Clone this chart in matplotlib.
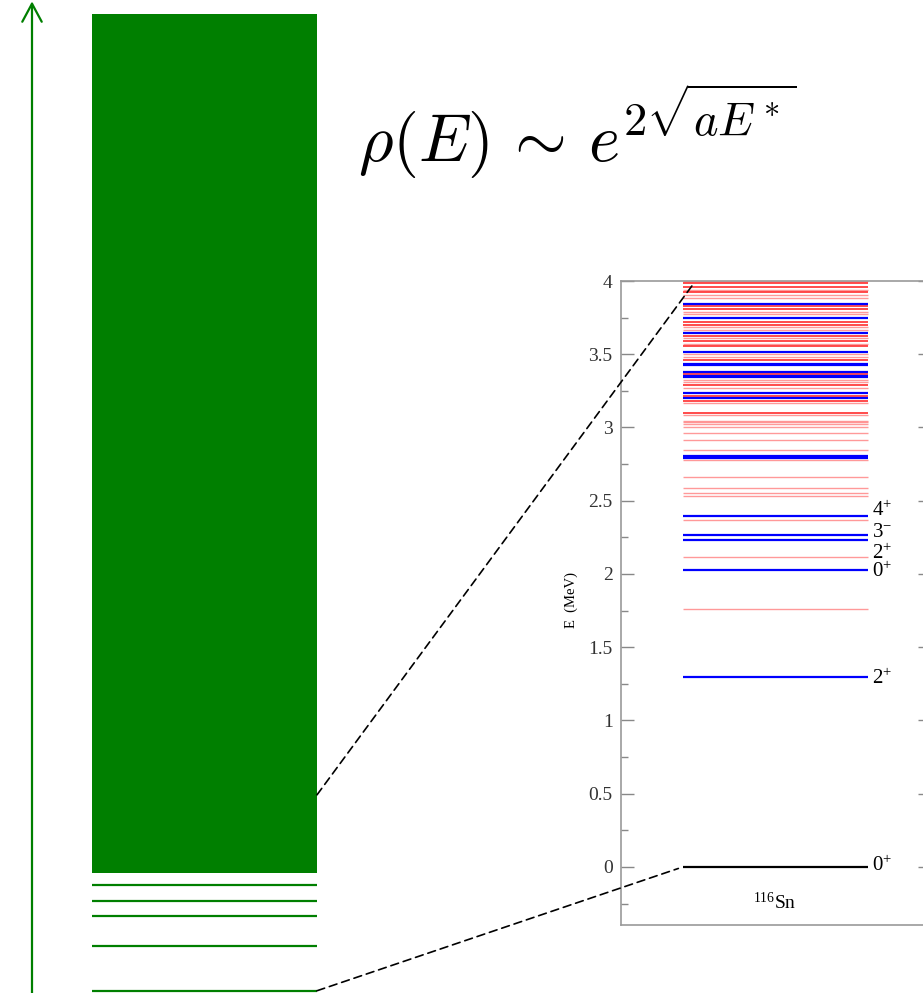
import matplotlib.pyplot as plt
from matplotlib.patches import ConnectionPatch

# schematic level scheme on the left (arbitrary units, first excited state = 1)
disc_levels = [0.0, 1.0, 1.667, 2.0, 2.342]
cont_lo, cont_hi = 2.62, 21.68
cont_link = 4.35          # where the zoom lines leave the continuum

# 116Sn levels (MeV)
ground = [0.0]
blue_levels = [1.294, 2.029, 2.232, 2.268, 2.394, 2.795, 2.803, 3.199, 3.233,
               3.343, 3.349, 3.379, 3.424, 3.431, 3.517, 3.645, 3.745, 3.845]
red_levels = [3.984, 3.961, 3.923, 3.829, 3.807, 3.720, 3.700, 3.627, 3.591,
              3.556, 3.517, 3.461, 3.363, 3.290, 3.217, 3.181, 3.101]
pink_levels = [4.000, 3.939, 3.904, 3.882, 3.791, 3.773, 3.684, 3.666, 3.609,
               3.572, 3.500, 3.484, 3.324, 3.308, 3.272, 3.165, 3.085, 3.047,
               3.035, 3.022, 3.003, 2.965, 2.913, 2.849, 2.778, 2.660, 2.587,
               2.550, 2.534, 2.371, 2.116, 1.759]

# spin-parity labels: (level, text, vertical nudge)
jpi_labels = [(2.394, '4^{+}', 0.035), (2.268, '3^{-}', 0.012),
              (2.232, '2^{+}', -0.092), (2.029, '0^{+}', -0.015),
              (1.294, '2^{+}', -0.01), (0.0, '0^{+}', 0.01)]

green = '#007f00'

fig = plt.figure(figsize=(9.23, 9.93), dpi=100)

# --- left: schematic with continuum ---
ax = fig.add_axes([0, 0, 1, 1])
ax.set_xlim(0, 923)
ax.set_ylim(-0.05, 22.0)
ax.set_axis_off()

ax.bar(204.5, cont_hi - cont_lo, width=225, bottom=cont_lo, color=green)
ax.hlines(disc_levels, 92, 317, color=green, lw=1.6)
ax.annotate('', xy=(32, 21.97), xytext=(32, -0.05),
            arrowprops=dict(arrowstyle='->,head_length=1.3,head_width=0.7',
                            color=green, lw=1.6, shrinkA=0, shrinkB=0))

ax.text(358, 18.4, r'$\rho(E)\,\sim\,e^{2\sqrt{aE^*}}$', fontsize=48,
        math_fontfamily='cm', va='baseline', ha='left')

# --- right: measured levels of 116Sn ---
axi = fig.add_axes([621 / 923, 68 / 993, 310 / 923, 644 / 993])
axi.set_xlim(0, 1)
axi.set_ylim(-0.396, 4.0)

x0, x1 = 0.2, 0.797
axi.hlines(pink_levels, x0, x1, color='#ff8080', lw=1.0, alpha=0.8)
axi.hlines(red_levels, x0, x1, color='#ff1a1a', lw=1.1)
axi.hlines(blue_levels, x0, x1, color='#0000ff', lw=1.6)
axi.hlines(ground, x0, x1, color='black', lw=1.6)

for e, lab, dy in jpi_labels:
    axi.text(0.81, e + dy, '$\\mathregular{' + lab + '}$', fontsize=15,
             family='Liberation Serif', va='center', ha='left')

axi.text(0.497, -0.24, '$\\mathregular{^{116}}$Sn', fontsize=14,
         family='Liberation Serif', ha='center', va='center')

axi.set_ylabel('E  (MeV)', fontsize=10.5, family='Liberation Serif')
axi.yaxis.set_label_coords(-0.14, 0.505)

axi.set_xticks([])
axi.set_yticks([0, 0.5, 1, 1.5, 2, 2.5, 3, 3.5, 4])
axi.set_yticklabels(['0', '0.5', '1', '1.5', '2', '2.5', '3', '3.5', '4'],
                    family='Liberation Serif', fontsize=14, color='#333333')
axi.set_yticks([-0.25, 0.25, 0.75, 1.25, 1.75, 2.25, 2.75, 3.25, 3.75], minor=True)
axi.tick_params(axis='y', which='major', direction='in', length=9.5,
                width=1, color='#888888', right=True, pad=6)
axi.tick_params(axis='y', which='minor', direction='in', length=5,
                width=1, color='#888888', right=False)
for sp in axi.spines.values():
    sp.set_color('#999999')
    sp.set_linewidth(1.2)

# zoom lines from the continuum / ground state into the level scheme
for ya, xb, yb in [(cont_link, 0.23, 3.97), (0.0, 0.185, -0.01)]:
    con = ConnectionPatch(xyA=(317, ya), coordsA=ax.transData,
                          xyB=(xb, yb), coordsB=axi.transData,
                          color='black', lw=1.2, linestyle=(0, (4.8, 3.0)))
    fig.add_artist(con)

fig.savefig('out.png', dpi=100)
